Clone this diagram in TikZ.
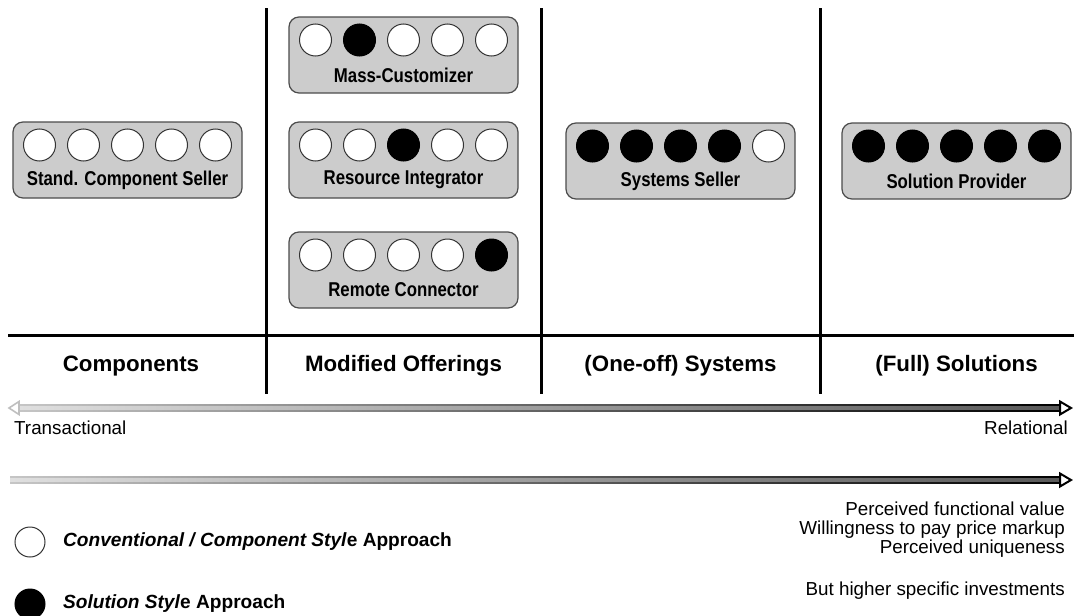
\documentclass[tikz,border=0pt]{standalone}
\usepackage{fontspec}
\setmainfont{Liberation Sans}
\newfontfamily\narrowfont[FakeStretch=0.84]{Liberation Sans}
\usepackage{xcolor}
\usepackage{tikz}
\usetikzlibrary{calc}
\usetikzlibrary{positioning}

\newcommand{\offering}[5]{%
\node[offerbox] (#1) at (#2,#3) {};
\node[offerlabel] (#1-label) at (#2,#3+20) {#4};
\foreach \f [count=\i] in {#5} {
\node[circ\f] (#1-\i) at ({#2+44*(\i-3)},#3-15) {};
}
}

\begin{document}
\begin{tikzpicture}[x=1pt,y=-1pt,
  offerbox/.style={draw=black!70,line width=1.2pt,fill=gray!40,rounded corners=10pt,minimum width=229pt,minimum height=76pt,inner sep=0pt},
  offerlabel/.style={font=\narrowfont\bfseries\fontsize{20}{22}\selectfont,inner sep=0pt},
  circ0/.style={circle,draw=black!80,line width=1pt,fill=white,minimum size=32pt,inner sep=0pt},
  circ1/.style={circle,draw=black,line width=1pt,fill=black,minimum size=32pt,inner sep=0pt},
  coltitle/.style={font=\bfseries\fontsize{22.3}{24}\selectfont,inner sep=0pt},
  plain/.style={font=\fontsize{18.8}{19}\selectfont,inner sep=0pt},
  legend/.style={font=\bfseries\fontsize{19.1}{21}\selectfont,inner sep=0pt,anchor=west},
  divider/.style={line width=3pt,black}]
\useasboundingbox (0,0) rectangle (1074,616);

\draw[divider] (266,8) to (266,394);
\draw[divider] (541,8) to (541,394);
\draw[divider] (820,8) to (820,394);
\draw[divider] (8,335) to (1074,335);

\offering{seller}{127.5}{160}{Stand. Component Seller}{0,0,0,0,0}
\offering{masscust}{403.5}{55}{Mass-Customizer}{0,1,0,0,0}
\offering{integrator}{403.5}{160}{Resource Integrator}{0,0,1,0,0}
\offering{connector}{403.5}{270}{Remote Connector}{0,0,0,0,1}
\offering{systems}{680.5}{161}{Systems Seller}{1,1,1,1,0}
\offering{solution}{956.5}{161}{Solution Provider}{1,1,1,1,1}

\node[coltitle] (components) at (131,366) {Components};
\node[coltitle] (modified) at (403.5,366) {Modified Offerings};
\node[coltitle] (oneoff) at (680.5,366) {(One-off) Systems};
\node[coltitle] (full) at (956.5,366) {(Full) Solutions};

\coordinate (rel-l) at (18,408);
\coordinate (rel-r) at (1061,408);
\shade[left color=gray!45,right color=black] ($(rel-l)+(0,-3.5)$) rectangle ($(rel-r)+(0,3.5)$);
\shade[left color=gray!25,right color=black!65] ($(rel-l)+(0,-1.2)$) rectangle ($(rel-r)+(0,1.2)$);
\draw[gray!50,line width=1.6pt,fill=white] ($(rel-l)+(1,-6.5)$) -- ($(rel-l)+(-9,0)$) -- ($(rel-l)+(1,6.5)$) -- cycle;
\draw[black,line width=2pt,fill=white] ($(rel-r)+(-1,-6.5)$) -- ($(rel-r)+(10,0)$) -- ($(rel-r)+(-1,6.5)$) -- cycle;
\node[plain,anchor=west] (transactional) at (14,428) {Transactional};
\node[plain,anchor=east] (relational) at (1068,428) {Relational};

\coordinate (val-l) at (10,480);
\coordinate (val-r) at (1061,480);
\shade[left color=gray!45,right color=black] ($(val-l)+(0,-3.5)$) rectangle ($(val-r)+(0,3.5)$);
\shade[left color=gray!25,right color=black!65] ($(val-l)+(0,-1.2)$) rectangle ($(val-r)+(0,1.2)$);
\draw[black,line width=2pt,fill=white] ($(val-r)+(-1,-6.5)$) -- ($(val-r)+(10,0)$) -- ($(val-r)+(-1,6.5)$) -- cycle;

\node[plain,anchor=east,align=right] (gains) at (1065,530) {Perceived functional value\\Willingness to pay price markup\\Perceived uniqueness};
\node[plain,anchor=east] (invest) at (1065,591) {But higher specific investments};

\node[circ0,minimum size=30pt] (legend-conv) at (30,542) {};
\node[legend] (legend-conv-text) at (63,542) {\textit{Conventional / Component Styl}e Approach};
\node[circ1,minimum size=30pt] (legend-sol) at (30,604) {};
\node[legend] (legend-sol-text) at (63,604) {\textit{Solution Styl}e Approach};
\end{tikzpicture}
\end{document}
